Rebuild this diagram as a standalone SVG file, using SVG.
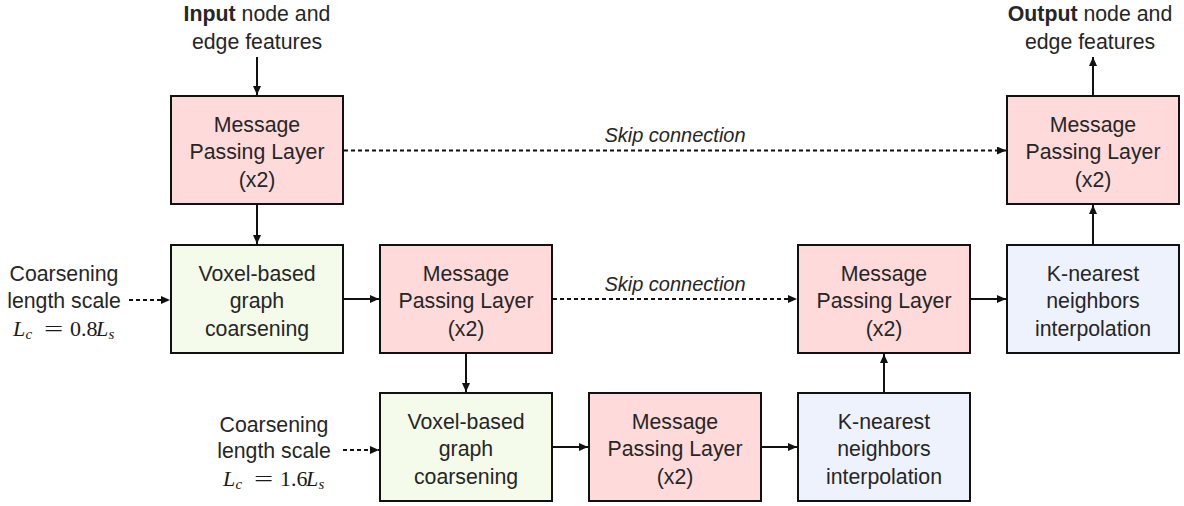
<svg xmlns="http://www.w3.org/2000/svg" width="1184" height="506" viewBox="0 0 1184 506">
<style>
  .box { stroke: #111; stroke-width: 2; }
  .mpl { fill: #FFDADA; }
  .vox { fill: #F4FBEA; }
  .knn { fill: #EEF2FD; }
  text { font-family: "Liberation Sans", Arial, sans-serif; font-size: 21.3px; fill: #262626; text-anchor: middle; }
  .b { font-weight: bold; }
  .skip { font-style: italic; font-size: 20px; }
  .math { font-family: "Liberation Serif", "Times New Roman", serif; font-size: 22px; text-anchor: start; fill: #1a1a1a; }
  .eq { font-family: "Liberation Serif", "Times New Roman", serif; font-size: 22px; fill: #1a1a1a; }
  .it { font-style: italic; }
  .sub { font-style: italic; font-size: 15px; }
  .solid { stroke: #111; stroke-width: 2; fill: none; }
  .dot { stroke: #111; stroke-width: 2; fill: none; stroke-dasharray: 4 3; }
</style>
<defs>
  <marker id="ah" markerUnits="userSpaceOnUse" markerWidth="9" markerHeight="8" refX="9" refY="4" orient="auto">
    <path d="M0,0 L9,4 L0,8 z" fill="#111"/>
  </marker>
</defs>

<g id="connectors">
  <line class="solid" x1="257" y1="57" x2="257" y2="95" marker-end="url(#ah)"/>
  <line class="solid" x1="257" y1="205" x2="257" y2="244" marker-end="url(#ah)"/>
  <line class="solid" x1="343" y1="299" x2="379" y2="299" marker-end="url(#ah)"/>
  <line class="solid" x1="466" y1="354" x2="466" y2="392" marker-end="url(#ah)"/>
  <line class="solid" x1="552" y1="447" x2="588" y2="447" marker-end="url(#ah)"/>
  <line class="solid" x1="761" y1="447" x2="797" y2="447" marker-end="url(#ah)"/>
  <line class="solid" x1="884" y1="393" x2="884" y2="354" marker-end="url(#ah)"/>
  <line class="solid" x1="970" y1="299" x2="1006" y2="299" marker-end="url(#ah)"/>
  <line class="solid" x1="1093" y1="245" x2="1093" y2="205" marker-end="url(#ah)"/>
  <line class="solid" x1="1093" y1="96" x2="1093" y2="57" marker-end="url(#ah)"/>
  <line class="dot" x1="344" y1="150.5" x2="1006" y2="150.5" marker-end="url(#ah)"/>
  <line class="dot" x1="553" y1="299" x2="797" y2="299" marker-end="url(#ah)"/>
  <line class="dot" x1="129" y1="300" x2="170" y2="300" marker-end="url(#ah)"/>
  <line class="dot" x1="343" y1="450" x2="379" y2="450" marker-end="url(#ah)"/>
  <text class="skip" x="675" y="142">Skip connection</text>
  <text class="skip" x="675" y="291">Skip connection</text>
</g>

<g id="input-label">
  <text x="257" y="21"><tspan class="b">Input</tspan> node and</text>
  <text x="257" y="48.5">edge features</text>
</g>
<g id="output-label">
  <text x="1090" y="21"><tspan class="b">Output</tspan> node and</text>
  <text x="1090" y="48.5">edge features</text>
</g>

<g id="mpl-top-left">
  <rect class="box mpl" x="171" y="96" width="172" height="108"/>
  <text x="257" y="131.7">Message</text>
  <text x="257" y="159.3">Passing Layer</text>
  <text x="257" y="186.8">(x2)</text>
</g>
<g id="mpl-top-right">
  <rect class="box mpl" x="1007" y="96" width="172" height="108"/>
  <text x="1093" y="131.7">Message</text>
  <text x="1093" y="159.3">Passing Layer</text>
  <text x="1093" y="186.8">(x2)</text>
</g>

<g id="coarsen-label-1">
  <text x="64" y="281">Coarsening</text>
  <text x="64" y="308.3">length scale</text>
  <text class="math" y="336"><tspan class="it" x="13">L</tspan><tspan class="sub" x="25.5" dy="3">c</tspan><tspan x="70" dy="-3">0.8</tspan><tspan class="it" x="96">L</tspan><tspan class="sub" x="108.5" dy="3">s</tspan></text>
  <text class="eq" transform="translate(53.5,336) scale(1.55,1)">=</text>
</g>
<g id="voxel-1">
  <rect class="box vox" x="171" y="245" width="172" height="108"/>
  <text x="257" y="280.7">Voxel-based</text>
  <text x="257" y="308.3">graph</text>
  <text x="257" y="335.5">coarsening</text>
</g>
<g id="mpl-row2-left">
  <rect class="box mpl" x="380" y="245" width="172" height="108"/>
  <text x="466" y="280.7">Message</text>
  <text x="466" y="308.3">Passing Layer</text>
  <text x="466" y="335.8">(x2)</text>
</g>
<g id="mpl-row2-right">
  <rect class="box mpl" x="798" y="245" width="172" height="108"/>
  <text x="884" y="280.7">Message</text>
  <text x="884" y="308.3">Passing Layer</text>
  <text x="884" y="335.8">(x2)</text>
</g>
<g id="knn-row2">
  <rect class="box knn" x="1007" y="245" width="172" height="108"/>
  <text x="1093" y="280.7">K-nearest</text>
  <text x="1093" y="308.3">neighbors</text>
  <text x="1093" y="335.5">interpolation</text>
</g>

<g id="coarsen-label-2">
  <text x="274" y="431.7">Coarsening</text>
  <text x="274" y="458.3">length scale</text>
  <text class="math" y="485.7"><tspan class="it" x="223">L</tspan><tspan class="sub" x="235.5" dy="3">c</tspan><tspan x="280" dy="-3">1.6</tspan><tspan class="it" x="306">L</tspan><tspan class="sub" x="318.5" dy="3">s</tspan></text>
  <text class="eq" transform="translate(263.5,485.7) scale(1.55,1)">=</text>
</g>
<g id="voxel-2">
  <rect class="box vox" x="380" y="393" width="172" height="108"/>
  <text x="466" y="428.7">Voxel-based</text>
  <text x="466" y="456.3">graph</text>
  <text x="466" y="483.5">coarsening</text>
</g>
<g id="mpl-row3">
  <rect class="box mpl" x="589" y="393" width="172" height="108"/>
  <text x="675" y="428.7">Message</text>
  <text x="675" y="456.3">Passing Layer</text>
  <text x="675" y="483.8">(x2)</text>
</g>
<g id="knn-row3">
  <rect class="box knn" x="798" y="393" width="172" height="108"/>
  <text x="884" y="428.7">K-nearest</text>
  <text x="884" y="456.3">neighbors</text>
  <text x="884" y="483.5">interpolation</text>
</g>
</svg>
